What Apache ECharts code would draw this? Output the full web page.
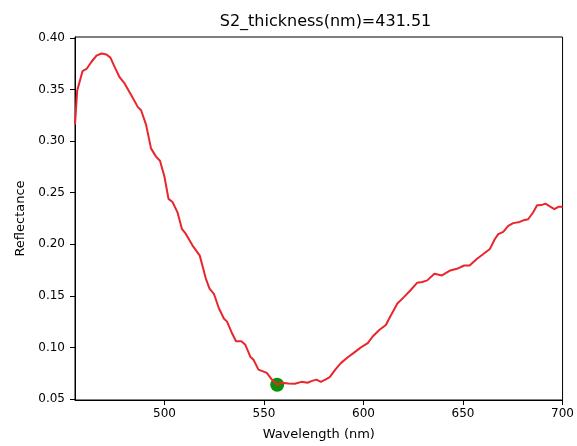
<!DOCTYPE html>
<html>
<head>
<meta charset="utf-8">
<script src="https://cdn.jsdelivr.net/npm/echarts@6/dist/echarts.min.js"></script>
<style>
html,body{margin:0;padding:0;background:#fff;}
#chart{width:577px;height:446px;}
</style>
</head>
<body>
<div id="chart"></div>
<script>
// ---- data ----
var titleText = "S2_thickness(nm)=431.51";
var xLabel = "Wavelength (nm)";
var yLabel = "Reflectance";
var wavelength = [455.0,456.1,458.8,460.8,463.3,465.8,468.3,470.8,472.8,474.9,477.4,479.9,483.3,486.6,488.2,490.7,493.2,495.7,497.7,499.9,502.0,504.0,506.5,508.7,510.7,514.0,517.7,520.7,522.6,524.8,527.3,529.8,531.4,533.6,535.9,538.6,540.6,543.1,544.7,547.2,551.4,553.9,556.6,558.8,562.2,565.5,568.8,571.8,573.8,576.3,578.5,580.8,583.0,585.8,588.7,592.1,595.4,598.7,602.1,604.6,607.9,611.2,613.7,617.0,620.4,623.6,627.0,629.5,632.0,635.6,639.4,643.6,646.9,650.6,653.3,656.9,660.2,663.5,666.0,667.7,670.2,672.7,675.2,678.5,680.5,682.7,685.2,687.2,689.3,691.4,693.8,695.9,698.1,700.0];
var reflectance = [0.316,0.349,0.368,0.370,0.377,0.383,0.385,0.384,0.381,0.372,0.362,0.356,0.3445,0.333,0.330,0.316,0.293,0.285,0.281,0.266,0.244,0.241,0.231,0.215,0.210,0.199,0.189,0.167,0.157,0.152,0.138,0.128,0.125,0.115,0.106,0.106,0.1025,0.091,0.088,0.0785,0.0753,0.0688,0.0638,0.0657,0.0650,0.0647,0.0666,0.0657,0.0673,0.0688,0.0666,0.0688,0.0712,0.0785,0.085,0.0904,0.0952,0.100,0.1041,0.1106,0.1169,0.1217,0.131,0.1426,0.149,0.1554,0.1628,0.1635,0.165,0.1714,0.1698,0.1746,0.1762,0.1794,0.1794,0.1858,0.1906,0.1955,0.2051,0.2099,0.2121,0.2179,0.2205,0.2217,0.2234,0.2243,0.2308,0.2378,0.238,0.2394,0.2365,0.234,0.2365,0.2365];
var minPoint = [556.6, 0.0638];
var xTicks = [500, 550, 600, 650, 700];
var yTicks = [0.05, 0.10, 0.15, 0.20, 0.25, 0.30, 0.35, 0.40];
var xRange = [455, 700];
var yRange = [0.049, 0.401];

var lineData = wavelength.map(function (w, i) { return [w, reflectance[i]]; });
var FONT = "DejaVu Sans";

var chart = echarts.init(document.getElementById('chart'), null, {renderer: 'canvas'});
chart.setOption({
  animation: false,
  backgroundColor: '#ffffff',
  title: {
    text: titleText,
    left: 320.5,
    top: 9,
    textAlign: 'center',
    textStyle: {fontFamily: FONT, fontSize: 16, fontWeight: 'normal', color: '#000'}
  },
  grid: {
    left: 75, right: 11, top: 37, bottom: 42,
    show: true, borderColor: '#000', borderWidth: 1, backgroundColor: 'transparent'
  },
  xAxis: {
    type: 'value',
    min: xRange[0], max: xRange[1],
    name: xLabel,
    nameLocation: 'middle',
    nameGap: 28,
    nameTextStyle: {fontFamily: FONT, fontSize: 13, color: '#000'},
    axisLine: {show: true, onZero: false, lineStyle: {color: '#000', width: 1}},
    axisTick: {show: true, length: 5, inside: false, customValues: xTicks, lineStyle: {color: '#000'}},
    axisLabel: {customValues: xTicks, margin: 8, fontFamily: FONT, fontSize: 12, color: '#000'},
    splitLine: {show: false}
  },
  yAxis: {
    type: 'value',
    min: yRange[0], max: yRange[1],
    name: yLabel,
    nameLocation: 'middle',
    nameGap: 47,
    nameTextStyle: {fontFamily: FONT, fontSize: 13, color: '#000'},
    axisLine: {show: true, onZero: false, lineStyle: {color: '#000', width: 1}},
    axisTick: {show: true, length: 5, inside: false, customValues: yTicks, lineStyle: {color: '#000'}},
    axisLabel: {customValues: yTicks, margin: 10, fontFamily: FONT, fontSize: 12, color: '#000',
      formatter: function (v) { return v.toFixed(2); }},
    splitLine: {show: false}
  },
  series: [
    {
      type: 'scatter',
      data: [minPoint],
      symbol: 'circle',
      symbolSize: 14,
      itemStyle: {color: '#0a900a', opacity: 1},
      z: 1
    },
    {
      type: 'line',
      data: lineData,
      showSymbol: false,
      symbol: 'none',
      lineStyle: {color: '#e8262c', width: 2},
      z: 2
    }
  ]
});
</script>
</body>
</html>
